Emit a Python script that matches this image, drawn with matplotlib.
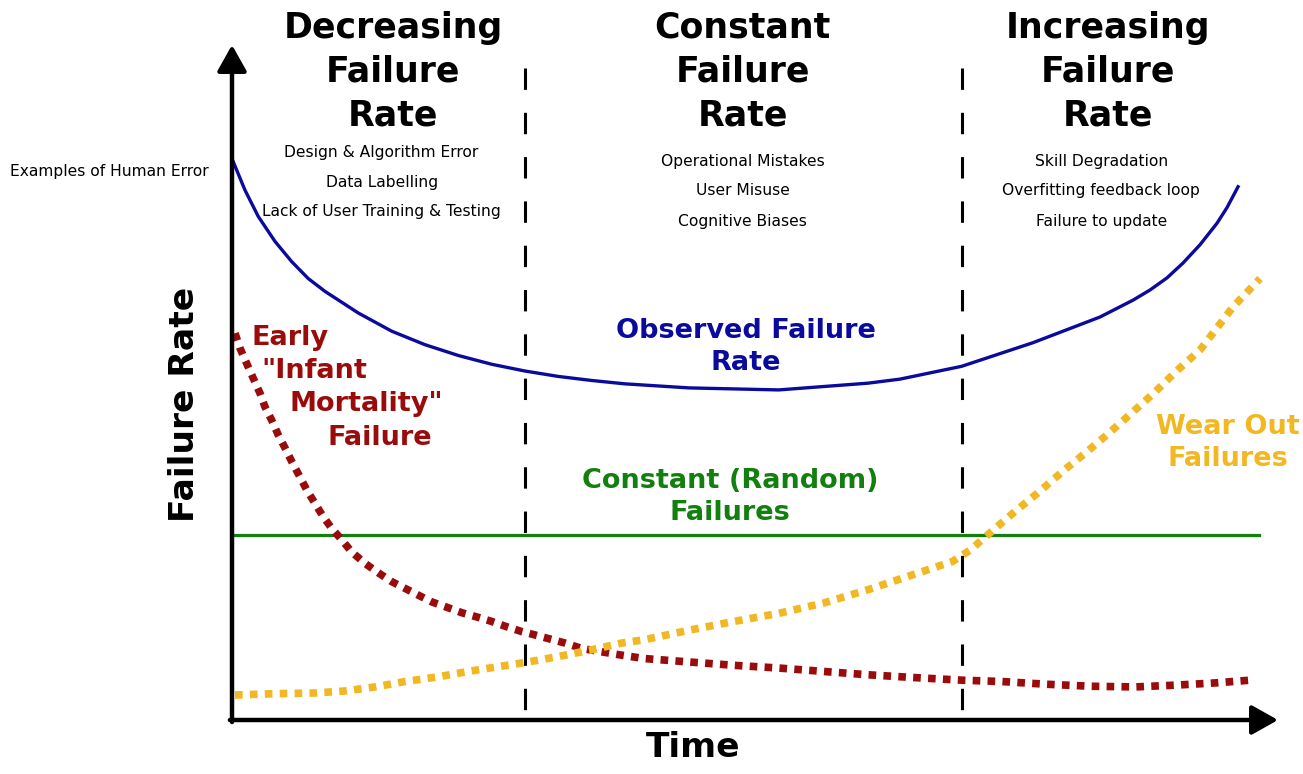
import numpy as np
import matplotlib
matplotlib.use('Agg')
import matplotlib.pyplot as plt

# values (time 0-100, failure rate 0-100)
observed_t = [0.12, 1.24, 2.51, 4.11, 5.71, 7.29, 8.89, 12.07, 15.27, 18.45, 21.64, 24.83,
              28.01, 31.19, 34.39, 37.57, 43.69, 52.26, 60.80, 63.86, 69.76, 76.58, 82.98,
              86.14, 87.76, 89.39, 90.92, 92.54, 94.17, 95.12, 96.18]
observed_r = [82.7, 78.5, 74.6, 70.9, 67.9, 65.4, 63.5, 60.3, 57.6, 55.6, 54.0, 52.7,
              51.7, 50.9, 50.3, 49.8, 49.2, 48.9, 49.9, 50.5, 52.4, 55.9, 59.7,
              62.2, 63.7, 65.5, 67.7, 70.4, 73.6, 75.9, 79.0]

infant_t = [0.29, 0.76, 1.41, 2.04, 2.68, 3.15, 3.80, 4.43, 5.07, 5.71, 6.50, 7.14, 7.93,
            8.73, 9.53, 10.49, 11.44, 12.72, 13.99, 15.27, 16.54, 17.81, 19.09, 20.36,
            21.96, 23.55, 24.83, 26.10, 27.70, 28.97, 30.40, 31.84, 33.43, 35.34, 37.26,
            39.45, 43.69, 47.99, 52.26, 56.50, 60.80, 65.06, 69.75, 73.59, 77.82, 82.12,
            86.40, 90.63, 94.07, 97.32]
infant_r = [57.3, 55.1, 52.8, 50.6, 48.4, 46.4, 44.4, 42.2, 40.3, 38.3, 36.0, 34.1, 32.1,
            30.1, 28.4, 26.7, 24.9, 23.2, 21.8, 20.5, 19.5, 18.5, 17.5, 16.8,
            15.9, 15.2, 14.6, 13.9, 13.1, 12.6, 12.0, 11.4, 10.6, 10.1, 9.6,
            9.1, 8.6, 8.1, 7.7, 7.2, 6.7, 6.3, 5.9, 5.7, 5.3, 5.0,
            4.9, 5.2, 5.5, 5.9]

wear_t = [0.29, 4.11, 7.93, 10.80, 13.67, 16.54, 19.72, 22.59, 25.46, 28.33, 31.19, 34.39,
          37.26, 39.45, 43.69, 47.99, 52.26, 56.50, 60.80, 65.06, 68.90, 70.60, 72.74,
          74.86, 77.01, 79.54, 81.70, 83.84, 85.95, 88.11, 90.44, 92.54, 95.70, 98.28]
wear_r = [3.7, 3.9, 4.0, 4.3, 4.9, 5.7, 6.4, 7.2, 7.9, 8.6, 9.4, 10.4,
          11.4, 11.9, 13.3, 14.6, 15.8, 17.3, 19.3, 21.5, 23.5, 25.2, 28.1,
          30.9, 33.6, 37.0, 39.7, 42.5, 45.4, 48.4, 51.9, 54.8, 61.2, 65.4]

random_t = [0.3, 98.2]
random_r = [27.4, 27.4]

phase_bounds = [28.0, 69.8]
phase_top = 96.6

phase_titles = ['Decreasing\nFailure\nRate', 'Constant\nFailure\nRate', 'Increasing\nFailure\nRate']
phase_examples = [['Design & Algorithm Error', 'Data Labelling', 'Lack of User Training & Testing'],
                  ['Operational Mistakes', 'User Misuse', 'Cognitive Biases'],
                  ['Skill Degradation', 'Overfitting feedback loop', 'Failure to update']]

blue = '#0a0a9c'
red = '#9a0c0c'
yellow = '#f2b824'
green = '#12800f'

fig = plt.figure(figsize=(13.03, 7.74), dpi=100)
ax = fig.add_axes([232 / 1303, 54 / 774, 1046 / 1303, 675 / 774])
ax.set_xlim(0, 100)
ax.set_ylim(0, 100)
ax.axis('off')

# axes with arrows
arrow = dict(arrowstyle='-|>,head_length=0.8,head_width=0.45', lw=3.2, color='black',
             mutation_scale=20, shrinkA=0, shrinkB=0)
ax.annotate('', xy=(0, 100), xytext=(0, -0.3), arrowprops=arrow, annotation_clip=False)
ax.annotate('', xy=(100, 0), xytext=(-0.2, 0), arrowprops=arrow, annotation_clip=False)

# phase boundaries (dashes start at the top)
for b in phase_bounds:
    ax.plot([b, b], [phase_top, 0], color='black', lw=2.2, dashes=(7, 7.5), clip_on=False)

# curves
ax.plot(observed_t, observed_r, color=blue, lw=2.4, clip_on=False, solid_joinstyle='round')
ax.plot(random_t, random_r, color=green, lw=2.3, clip_on=False)
ax.plot(infant_t, infant_r, color=red, lw=5.5, dashes=(1, 0.95), clip_on=False)
ax.plot(wear_t, wear_r, color=yellow, lw=5.5, dashes=(1, 0.95), clip_on=False)

# phase headings
title_x = [15.4, 48.8, 83.7]
for x, t in zip(title_x, phase_titles):
    ax.text(x, 96.1, t, ha='center', va='center', fontsize=25, fontweight='bold',
            linespacing=1.36, clip_on=False)

example_x = [14.3, 48.8, 83.1]
example_y = [[84.1, 79.7, 75.3], [82.8, 78.4, 73.9], [82.8, 78.4, 73.9]]
for x, ys, lines in zip(example_x, example_y, phase_examples):
    for y, s in zip(ys, lines):
        ax.text(x, y, s, ha='center', va='center', fontsize=11.2)

ax.text(-21.2, 81.3, 'Examples of Human Error', ha='left', va='center', fontsize=11.2)

# curve labels
lab = dict(ha='center', va='center', fontsize=19.5, fontweight='bold', linespacing=1.3)
ax.text(49.1, 55.3, 'Observed Failure\nRate', color=blue, **lab)
ax.text(47.6, 33.0, 'Constant (Random)\nFailures', color=green, **lab)
ax.text(95.2, 41.1, 'Wear Out\nFailures', color=yellow, clip_on=False, **lab)
for x, y, s in [(5.5, 56.6, 'Early'), (7.9, 51.7, '"Infant'),
                (12.8, 46.8, 'Mortality"'), (14.1, 41.8, 'Failure')]:
    ax.text(x, y, s, color=red, **lab)

# axis titles
ax.text(-4.5, 46.7, 'Failure Rate', ha='center', va='center', rotation=90,
        fontsize=24.8, fontweight='bold')
ax.text(44.1, -4.1, 'Time', ha='center', va='center', fontsize=24.8, fontweight='bold')

fig.savefig('out.png', dpi=100)
